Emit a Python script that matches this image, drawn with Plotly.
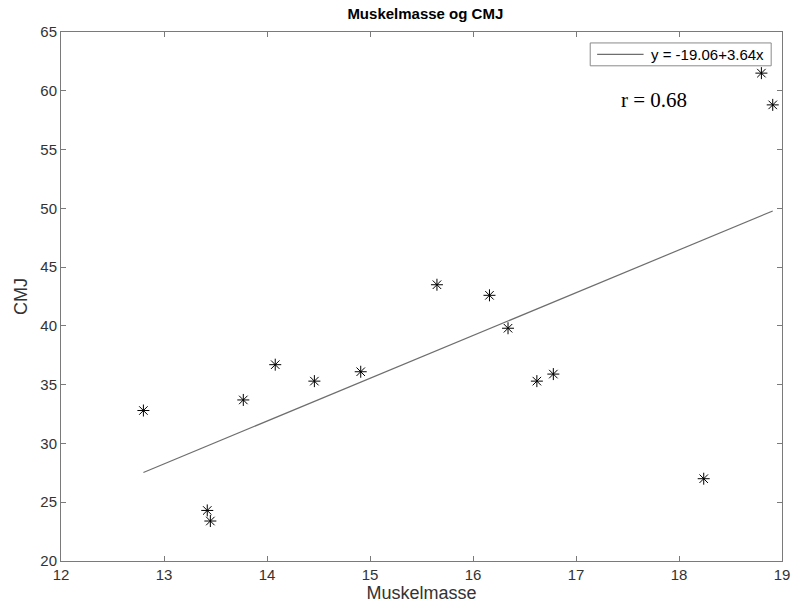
import numpy as np
import plotly.graph_objects as go

# Data
muskelmasse = [12.80, 13.42, 13.45, 13.77, 14.08, 14.46, 14.91, 15.65, 16.16, 16.34, 16.62, 16.78, 18.24, 18.80, 18.91]
cmj = [32.8, 24.3, 23.4, 33.7, 36.7, 35.3, 36.1, 43.5, 42.6, 39.8, 35.3, 35.9, 27.0, 61.5, 58.8]
intercept = -19.06
slope = 3.64
r_value = 0.68
x_ticks = [12, 13, 14, 15, 16, 17, 18, 19]
y_ticks = [20, 25, 30, 35, 40, 45, 50, 55, 60, 65]

fit_x = np.array([min(muskelmasse), max(muskelmasse)])
fit_y = intercept + slope * fit_x
fit_label = f"y = {intercept:.2f}+{slope:.2f}x"

axis_col = "#7a7a7a"
text_col = "#333333"
fit_col = "#6e6e6e"
font_fam = "Liberation Sans, Arial, sans-serif"

fig = go.Figure()
fig.add_trace(go.Scatter(
    x=fit_x, y=fit_y, mode="lines",
    line=dict(color=fit_col, width=1.2),
    name=fit_label, showlegend=False,
))
fig.add_trace(go.Scatter(
    x=muskelmasse, y=cmj, mode="markers",
    marker=dict(symbol="asterisk-open", size=10, color="black",
                line=dict(color="black", width=1)),
    showlegend=False,
))

# Legend box (drawn as decoration in paper coordinates, below the data)
fig.add_shape(type="rect", xref="paper", yref="paper",
              x0=0.7340, x1=0.9850, y0=0.9361, y1=0.9793,
              line=dict(color="#8a8a8a", width=1), fillcolor="white", layer="below")
fig.add_shape(type="line", xref="paper", yref="paper",
              x0=0.7436, x1=0.8080, y0=0.9577, y1=0.9577,
              line=dict(color=fit_col, width=1.2), layer="below")
fig.add_annotation(x=0.8150, y=0.9577, xref="paper", yref="paper",
                   xanchor="left", yanchor="middle", text=fit_label, showarrow=False,
                   font=dict(family=font_fam, size=15, color="black"))

fig.add_annotation(
    x=17.76, y=59.2, xref="x", yref="y",
    text=f"r = {r_value:.2f}", showarrow=False,
    font=dict(family="Liberation Serif, Times New Roman, serif", size=21, color="black"),
)

fig.update_layout(
    width=801, height=610,
    margin=dict(l=61, r=11, t=32, b=46),
    paper_bgcolor="white", plot_bgcolor="white",
    showlegend=False,
    title=dict(text="<b>Muskelmasse og CMJ</b>", x=0.531, xanchor="center",
               y=1 - 14 / 610, yanchor="middle",
               font=dict(family=font_fam, size=15, color="black")),
    font=dict(family=font_fam, color=text_col),
    xaxis=dict(range=[12, 19], tickvals=x_ticks, ticks="inside", ticklen=5,
               tickcolor=axis_col, showline=True, linecolor=axis_col, linewidth=1,
               mirror="ticks", showgrid=False, zeroline=False,
               tickfont=dict(size=15, color=text_col),
               title=dict(text="Muskelmasse", font=dict(size=18, color=text_col), standoff=3)),
    yaxis=dict(range=[20, 65], tickvals=y_ticks, ticks="inside", ticklen=5,
               tickcolor=axis_col, showline=True, linecolor=axis_col, linewidth=1,
               mirror="ticks", showgrid=False, zeroline=False,
               tickfont=dict(size=15, color=text_col),
               title=dict(text="CMJ", font=dict(size=18, color=text_col), standoff=8)),
)

fig.write_html("out.html")
